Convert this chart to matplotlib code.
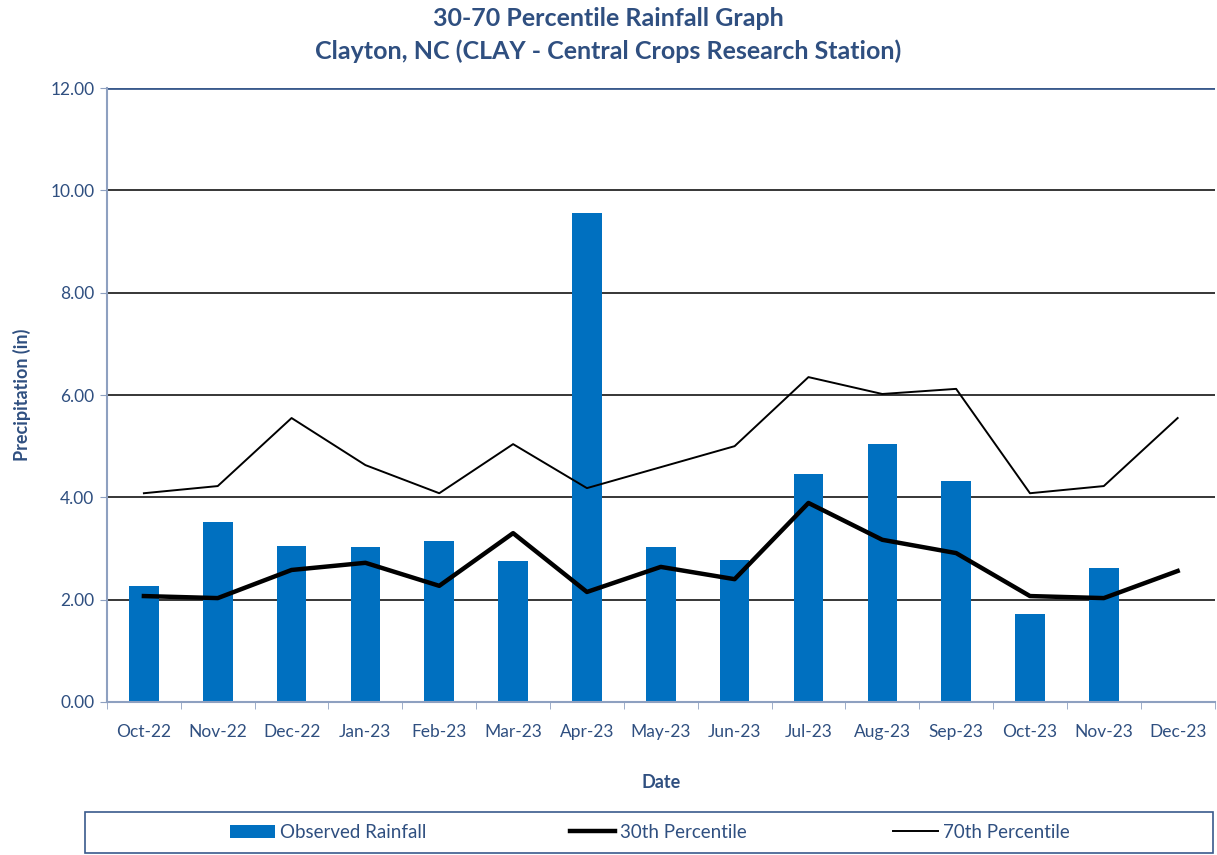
import matplotlib.pyplot as plt
import numpy as np

months = ["Oct-22", "Nov-22", "Dec-22", "Jan-23", "Feb-23", "Mar-23", "Apr-23", "May-23",
          "Jun-23", "Jul-23", "Aug-23", "Sep-23", "Oct-23", "Nov-23", "Dec-23"]
observed = [2.27, 3.52, 3.05, 3.03, 3.15, 2.76, 9.56, 3.03, 2.78, 4.46, 5.04, 4.32, 1.72, 2.62, np.nan]
p30 = [2.07, 2.03, 2.58, 2.72, 2.27, 3.30, 2.15, 2.64, 2.40, 3.89, 3.17, 2.91, 2.07, 2.03, 2.56]
p70 = [4.08, 4.22, 5.55, 4.63, 4.08, 5.04, 4.18, 4.59, 5.00, 6.35, 6.02, 6.12, 4.08, 4.22, 5.55]

txt = '#2F4F80'
spine = '#8EA0C0'
plt.rcParams['font.family'] = ['Lato', 'DejaVu Sans']

fig = plt.figure(figsize=(12.17, 8.55), dpi=100)
ax = fig.add_axes([0.0879, 0.179, 0.9101, 0.718])

x = np.arange(len(months))
bars = ax.bar(x, observed, width=0.4, color='#0070C0', label='Observed Rainfall', zorder=2)
l30, = ax.plot(x, p30, color='black', lw=3.2, label='30th Percentile', zorder=3)
l70, = ax.plot(x, p70, color='black', lw=1.4, label='70th Percentile', zorder=3)

ax.set_xlim(-0.5, len(months) - 0.5)
ax.set_ylim(0, 12)
ax.set_yticks(np.arange(0, 12.01, 2))
ax.set_yticklabels([f"{v:.2f}" for v in np.arange(0, 12.01, 2)])
ax.set_xticks(x)
ax.set_xticklabels(months)
ax.set_xticks(np.arange(-0.5, len(months), 1), minor=True)
ax.tick_params(axis='x', which='major', length=0, pad=16, labelsize=12.5, labelcolor=txt)
ax.tick_params(axis='x', which='minor', length=5, color=spine)
ax.tick_params(axis='y', length=5, color=spine, labelsize=12.5, labelcolor=txt, pad=4)
ax.yaxis.grid(True, color='black', lw=1.1, zorder=1)
ax.set_axisbelow(True)
for s in ['top', 'right']:
    ax.spines[s].set_visible(False)
ax.spines['left'].set_color(spine)
ax.spines['bottom'].set_color(spine)
ax.spines['left'].set_linewidth(1.5)
ax.spines['bottom'].set_linewidth(1.5)
ax.axhline(12, color='#3A5A8C', lw=2, zorder=1)

ax.set_xlabel('Date', fontsize=13, fontweight='bold', color=txt, labelpad=24)
ax.set_ylabel('Precipitation (in)', fontsize=13, fontweight='bold', color=txt, labelpad=14)

fig.text(0.5, 0.978, '30-70 Percentile Rainfall Graph', ha='center', va='center',
         fontsize=18, fontweight='bold', color=txt)
fig.text(0.5, 0.940, 'Clayton, NC (CLAY - Central Crops Research Station)', ha='center', va='center',
         fontsize=18, fontweight='bold', color=txt)

# legend box
bb = (0.0698, 0.0023, 0.927, 0.048)
rect = plt.Rectangle((bb[0], bb[1]), bb[2], bb[3], transform=fig.transFigure, fill=False,
                     edgecolor='#3A5A8C', lw=1.2)
fig.patches.append(rect)
ymid = bb[1] + bb[3] / 2
for h, xpos in [(bars, 230), (l30, 570), (l70, 893)]:
    lg = fig.legend([h], [h.get_label()], loc='center left', bbox_to_anchor=(xpos / 1217, ymid),
                    frameon=False, fontsize=13.5, handlelength=2.4, handletextpad=0.25,
                    borderpad=0, borderaxespad=0)
    for t in lg.get_texts():
        t.set_color(txt)

fig.savefig('out.png', dpi=100)
